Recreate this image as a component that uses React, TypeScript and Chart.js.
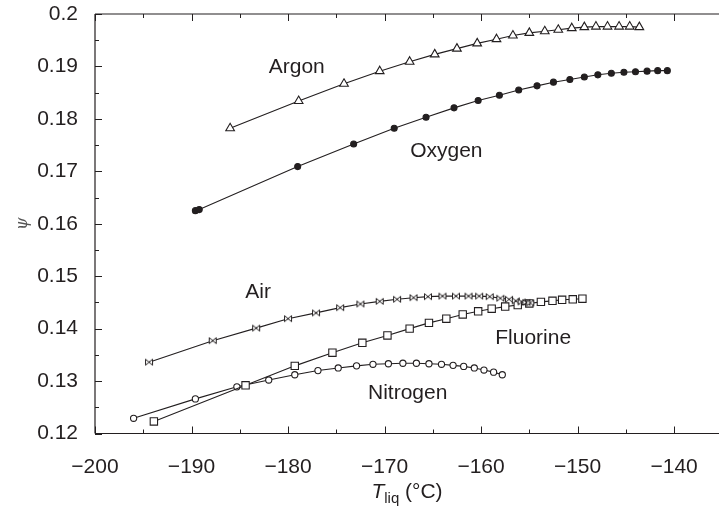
import React, { useEffect, useRef } from "react";
import { Chart, registerables } from "chart.js";
Chart.register(...registerables);

const INK = "#231f20";
const FONT = '"Liberation Sans", Arial, Helvetica, sans-serif';

// Argon (open triangles)
const argonT = [-186.0, -178.9, -174.2, -170.5, -167.4, -164.8, -162.5, -160.4, -158.4, -156.7, -155.0, -153.4, -152.0, -150.6, -149.3, -148.1, -146.9, -145.7, -144.6, -143.6];
const argonPsi = [0.1782, 0.1834, 0.1867, 0.1891, 0.1909, 0.1923, 0.1934, 0.1944, 0.1952, 0.1959, 0.1964, 0.1967, 0.197, 0.1973, 0.1975, 0.1976, 0.1976, 0.1976, 0.1976, 0.1975];

// Oxygen (filled circles)
const oxygenT = [-189.6, -189.2, -179.0, -173.2, -169.0, -165.7, -162.8, -160.3, -158.1, -156.1, -154.2, -152.5, -150.8, -149.3, -147.9, -146.5, -145.2, -144.0, -142.8, -141.7, -140.7];
const oxygenPsi = [0.1625, 0.1627, 0.1709, 0.1752, 0.1782, 0.1803, 0.1821, 0.1835, 0.1845, 0.1855, 0.1863, 0.187, 0.1875, 0.188, 0.1884, 0.1887, 0.1889, 0.189, 0.1891, 0.1892, 0.1892];

// Air (bow-tie markers)
const airT = [-194.4, -187.8, -183.3, -180.0, -177.1, -174.6, -172.5, -170.5, -168.7, -167.0, -165.5, -164.0, -162.6, -161.3, -160.2, -159.1, -158.0, -157.1, -156.4, -155.8, -155.3, -154.9];
const airPsi = [0.1336, 0.1377, 0.1401, 0.1419, 0.143, 0.144, 0.1447, 0.1452, 0.1456, 0.1459, 0.1461, 0.1462, 0.1462, 0.1462, 0.1462, 0.1461, 0.1458, 0.1456, 0.1453, 0.1451, 0.145, 0.1449];

// Fluorine (open squares)
const fluorineT = [-193.9, -184.4, -179.3, -175.4, -172.3, -169.7, -167.4, -165.4, -163.6, -161.9, -160.3, -158.9, -157.5, -156.2, -155.0, -153.8, -152.6, -151.6, -150.5, -149.5];
const fluorinePsi = [0.1223, 0.1292, 0.1329, 0.1354, 0.1373, 0.1387, 0.14, 0.1411, 0.1419, 0.1427, 0.1433, 0.1438, 0.1442, 0.1445, 0.1448, 0.1451, 0.1453, 0.1455, 0.1456, 0.1457];

// Nitrogen (open circles)
const nitrogenT = [-196.0, -189.6, -185.3, -182.0, -179.3, -176.9, -174.8, -172.9, -171.2, -169.6, -168.1, -166.7, -165.4, -164.1, -162.9, -161.8, -160.7, -159.7, -158.7, -157.8];
const nitrogenPsi = [0.1229, 0.1266, 0.1289, 0.1302, 0.1312, 0.132, 0.1325, 0.1329, 0.1332, 0.1333, 0.1334, 0.1334, 0.1333, 0.1332, 0.133, 0.1328, 0.1325, 0.1321, 0.1317, 0.1312];

// Curve labels (text placed in data units)
const curveLabels = ["Argon", "Oxygen", "Air", "Fluorine", "Nitrogen"];
const curveLabelT = [-179.1, -163.6, -183.1, -154.6, -167.6];
const curveLabelPsi = [0.1898, 0.1739, 0.1469, 0.1382, 0.1277];

// Axes
const xMin = -200;
const xMax = -136;
const xMajorStep = 10;
const xMinorStep = 5;
const yMin = 0.12;
const yMax = 0.2;
const yMajorStep = 0.01;
const yMinorStep = 0.005;
const yAxisTitle = "ψ";
const xTitleMain = "T";
const xTitleSub = "liq";
const xTitleUnit = " (°C)";

const pts = (xs: number[], ys: number[]) => xs.map((x, i) => ({ x, y: ys[i] }));

const decorPlugin = {
  id: "decor",
  afterDraw(chart: any) {
    const { ctx, chartArea: a, scales } = chart;
    const xs = scales.x;
    const ys = scales.y;
    ctx.save();
    ctx.strokeStyle = INK;
    ctx.lineWidth = 1.2;
    ctx.beginPath();
    ctx.moveTo(a.left, a.top);
    ctx.lineTo(a.left, a.bottom);
    ctx.moveTo(a.left, a.bottom);
    ctx.lineTo(chart.width, a.bottom);
    ctx.moveTo(a.left, a.top);
    ctx.lineTo(chart.width, a.top);
    ctx.stroke();

    ctx.lineWidth = 1;
    ctx.beginPath();
    for (let v = xMin; v <= xMax + 1e-9; v += xMinorStep) {
      const major = Math.abs(Math.round(v / xMajorStep) * xMajorStep - v) < 1e-6;
      const len = major ? 7 : 4;
      const px = Math.round(xs.getPixelForValue(v)) + 0.5;
      ctx.moveTo(px, a.bottom);
      ctx.lineTo(px, a.bottom - len);
      ctx.moveTo(px, a.top);
      ctx.lineTo(px, a.top + len);
    }
    for (let k = 0; yMin + k * yMinorStep <= yMax + 1e-9; k++) {
      const v = yMin + k * yMinorStep;
      const major = k % 2 === 0;
      const len = major ? 7 : 4;
      const py = Math.round(ys.getPixelForValue(v)) + 0.5;
      ctx.moveTo(a.left, py);
      ctx.lineTo(a.left + len, py);
    }
    ctx.stroke();

    // curve labels
    ctx.fillStyle = INK;
    ctx.font = `21px ${FONT}`;
    ctx.textAlign = "center";
    ctx.textBaseline = "middle";
    curveLabels.forEach((t, i) => {
      ctx.fillText(t, xs.getPixelForValue(curveLabelT[i]), ys.getPixelForValue(curveLabelPsi[i]));
    });

    // x title with subscript
    const cx = (a.left + chart.width) / 2;
    const by = 498;
    ctx.textBaseline = "alphabetic";
    ctx.textAlign = "left";
    ctx.font = `italic 21px ${FONT}`;
    const wT = ctx.measureText(xTitleMain).width;
    ctx.font = `15px ${FONT}`;
    const wS = ctx.measureText(xTitleSub).width;
    ctx.font = `21px ${FONT}`;
    const wU = ctx.measureText(xTitleUnit).width;
    let sx = cx - (wT + wS + wU) / 2;
    ctx.font = `italic 21px ${FONT}`;
    ctx.fillText(xTitleMain, sx, by);
    sx += wT;
    ctx.font = `15px ${FONT}`;
    ctx.fillText(xTitleSub, sx, by + 5);
    sx += wS;
    ctx.font = `21px ${FONT}`;
    ctx.fillText(xTitleUnit, sx, by);

    // y title (rotated)
    ctx.save();
    ctx.translate(23, ys.getPixelForValue(0.16));
    ctx.rotate(-Math.PI / 2);
    ctx.font = `italic 16px "DejaVu Serif", serif`;
    ctx.fillStyle = "#555";
    ctx.textAlign = "center";
    ctx.textBaseline = "middle";
    ctx.fillText(yAxisTitle, 0, 0);
    ctx.restore();

    ctx.restore();
  },
};

export default function App() {
  const ref = useRef<HTMLCanvasElement | null>(null);
  useEffect(() => {
    if (!ref.current) return;
    const bow = document.createElement("canvas");
    bow.width = 10;
    bow.height = 9;
    const bc = bow.getContext("2d")!;
    bc.lineWidth = 1;
    bc.strokeStyle = INK;
    bc.fillStyle = "#fff";
    bc.beginPath();
    bc.moveTo(1.5, 1.5);
    bc.lineTo(8.5, 7.5);
    bc.lineTo(8.5, 1.5);
    bc.lineTo(1.5, 7.5);
    bc.closePath();
    bc.fill();
    bc.stroke();

    const common = {
      showLine: true,
      borderColor: INK,
      borderWidth: 1.1,
      pointBorderColor: INK,
      pointBorderWidth: 1.1,
      pointBackgroundColor: "#fff",
      backgroundColor: "#fff",
      fill: false,
      tension: 0,
    };
    const chart = new Chart(ref.current, {
      type: "scatter",
      data: {
        datasets: [
          { ...common, label: "Argon", data: pts(argonT, argonPsi), pointStyle: "triangle", pointRadius: 5 },
          { ...common, label: "Oxygen", data: pts(oxygenT, oxygenPsi), pointStyle: "circle", pointRadius: 3, pointBackgroundColor: INK },
          { ...common, label: "Air", data: pts(airT, airPsi), pointStyle: bow as any, pointRadius: 5 },
          { ...common, label: "Fluorine", data: pts(fluorineT, fluorinePsi), pointStyle: "rect", pointRadius: 5.2 },
          { ...common, label: "Nitrogen", data: pts(nitrogenT, nitrogenPsi), pointStyle: "circle", pointRadius: 3.1 },
        ] as any,
      },
      options: {
        animation: false,
        responsive: true,
        maintainAspectRatio: false,
        layout: { padding: { top: 14, right: 0, bottom: 0, left: 0 } },
        plugins: { legend: { display: false }, tooltip: { enabled: false } },
        scales: {
          x: {
            type: "linear",
            min: xMin,
            max: xMax,
            grid: { display: false },
            border: { display: false },
            ticks: {
              stepSize: xMajorStep,
              includeBounds: false,
              autoSkip: false,
              maxRotation: 0,
              padding: 13,
              color: INK,
              font: { family: FONT, size: 21 },
              callback: (v: any) => (v < 0 ? "\u2212" + Math.abs(v) : String(v)),
            },
            afterFit: (s: any) => {
              s.height = 76.5;
              s.paddingLeft = 0;
              s.paddingRight = 0;
            },
          },
          y: {
            type: "linear",
            min: yMin,
            max: yMax,
            grid: { display: false },
            border: { display: false },
            ticks: {
              stepSize: yMajorStep,
              padding: 9,
              color: INK,
              font: { family: FONT, size: 21 },
              callback: (v: any) => String(Number(Number(v).toFixed(3))),
            },
            afterFit: (s: any) => {
              s.width = 95;
              s.paddingTop = 0;
              s.paddingBottom = 0;
            },
          },
        },
      },
      plugins: [decorPlugin],
    });
    return () => chart.destroy();
  }, []);
  return (
    <div style={{ position: "fixed", left: 0, top: 0, width: 719, height: 510, background: "#fff" }}>
      <canvas ref={ref} />
    </div>
  );
}
